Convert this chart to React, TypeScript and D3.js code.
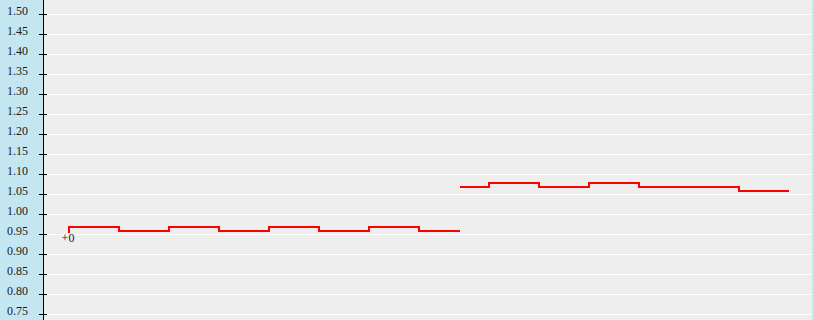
import React from "react";
import * as d3 from "d3";

const yTicks = [0.75, 0.8, 0.85, 0.9, 0.95, 1.0, 1.05, 1.1, 1.15, 1.2, 1.25, 1.3, 1.35, 1.4, 1.45, 1.5];
const series1X = [0, 50, 100, 150, 200, 250, 300, 350, 391];
const series1Y = [0.97, 0.96, 0.97, 0.96, 0.97, 0.96, 0.97, 0.96, 0.96];
const series2X = [391, 420, 470, 520, 570, 620, 670, 720];
const series2Y = [1.07, 1.08, 1.07, 1.08, 1.07, 1.07, 1.06, 1.06];
const startValue = 0.955;
const startLabel = "+0";

const W = 814;
const H = 320;

export default function App() {
  const y = d3.scaleLinear().domain([0.75, 1.5]).range([314, 14]);
  const x = d3.scaleLinear().domain([0, 720]).range([69, 789]);

  const line = d3
    .line<[number, number]>()
    .x((d) => x(d[0]))
    .y((d) => y(d[1]) + 1)
    .curve(d3.curveStepAfter);

  const pts1: [number, number][] = [[series1X[0], startValue], ...series1X.map((v, i) => [v, series1Y[i]] as [number, number])];
  const pts2: [number, number][] = series2X.map((v, i) => [v, series2Y[i]] as [number, number]);

  return (
    <svg width={W} height={H} style={{ position: "fixed", left: 0, top: 0, display: "block" }}>
      <rect x={0} y={0} width={W} height={H} fill="#eeeeee" />
      <rect x={0} y={0} width={43} height={H} fill="#c4e6f0" />
      <rect x={812} y={0} width={2} height={H} fill="#c4e6f0" />
      {yTicks.map((t) => (
        <g key={t}>
          <line x1={47} x2={812} y1={Math.round(y(t)) + 0.5} y2={Math.round(y(t)) + 0.5} stroke="#ffffff" strokeWidth={1} />
          <line x1={39} x2={47} y1={Math.round(y(t)) + 0.5} y2={Math.round(y(t)) + 0.5} stroke="#000" strokeWidth={1} />
          <text
            x={28}
            y={Math.round(y(t)) + 1}
            textAnchor="end"
            fontFamily="'Liberation Serif', 'DejaVu Serif', serif"
            fontSize={12}
            fill="#1a1a1a"
          >
            {t.toFixed(2)}
          </text>
        </g>
      ))}
      <line x1={43.5} x2={43.5} y1={0} y2={H} stroke="#000" strokeWidth={1} />
      <path d={line(pts1) || ""} fill="none" stroke="#ff0000" strokeWidth={2} />
      <path d={line(pts2) || ""} fill="none" stroke="#ff0000" strokeWidth={2} />
      <text
        x={x(series1X[0]) - 1}
        y={242}
        textAnchor="middle"
        fontFamily="'Liberation Serif', 'DejaVu Serif', serif"
        fontSize={12}
        fill="#1a1a1a"
      >
        {startLabel}
      </text>
    </svg>
  );
}
